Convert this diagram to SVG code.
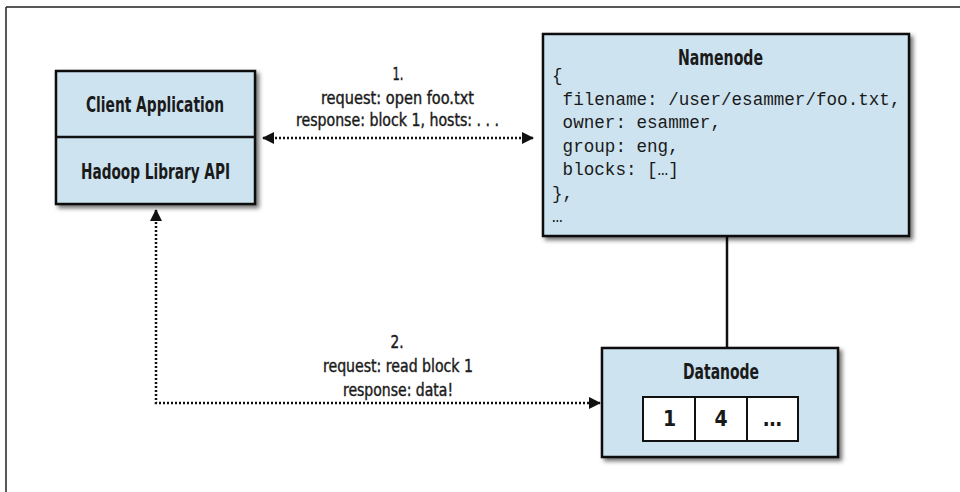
<svg xmlns="http://www.w3.org/2000/svg" width="960" height="492" viewBox="0 0 960 492">
  <style>
    .box { fill: #cde3f0; stroke: #111; stroke-width: 2.5; }
    .title { font-family: "Liberation Sans Narrow", "DejaVu Sans Condensed", "Liberation Sans", sans-serif; font-weight: bold; font-size: 21px; fill: #1a1a1a; text-anchor: middle; }
    .lbl { font-family: "Liberation Sans Narrow", "DejaVu Sans Condensed", "Liberation Sans", sans-serif; font-size: 17.5px; fill: #1a1a1a; stroke: #1a1a1a; stroke-width: 0.4; text-anchor: middle; }
    .mono { font-family: "Liberation Mono", "DejaVu Sans Mono", monospace; font-size: 17.6px; fill: #1a1a1a; }
    .dotted { fill: none; stroke: #111; stroke-width: 2.5; stroke-dasharray: 2 2; }
    .solid { fill: none; stroke: #111; stroke-width: 2.5; }
    .cell { fill: #fff; stroke: #111; stroke-width: 2; }
  </style>
  <defs>
    <filter id="shadow" x="-10%" y="-10%" width="130%" height="130%">
      <feDropShadow dx="3" dy="3" stdDeviation="2" flood-color="#000" flood-opacity="0.55"/>
    </filter>
    <marker id="arrow" viewBox="0 0 12 12" refX="11" refY="6" markerWidth="12" markerHeight="12" markerUnits="userSpaceOnUse" orient="auto-start-reverse">
      <path d="M0,0 L12,6 L0,12 z" fill="#111"/>
    </marker>
  </defs>

  <rect width="960" height="492" fill="#fff"/>
  <g id="frame">
    <path d="M6,7 H960 M6,7 V492" fill="none" stroke="#222" stroke-width="1.5"/>
  </g>

  <g id="connectors">
    <line class="dotted" x1="263" y1="138" x2="533" y2="138" marker-start="url(#arrow)" marker-end="url(#arrow)"/>
    <path class="dotted" d="M156,210 V403 H600" marker-start="url(#arrow)" marker-end="url(#arrow)"/>
    <line class="solid" x1="727" y1="236" x2="727" y2="348"/>
    <g id="label1">
      <text class="lbl" x="398" y="80" textLength="11" lengthAdjust="spacingAndGlyphs">1.</text>
      <text class="lbl" x="397.5" y="104" textLength="153" lengthAdjust="spacingAndGlyphs">request: open foo.txt</text>
      <text class="lbl" x="397.5" y="126" textLength="203" lengthAdjust="spacingAndGlyphs">response: block 1, hosts: . . .</text>
    </g>
    <g id="label2">
      <text class="lbl" x="397" y="348" textLength="13" lengthAdjust="spacingAndGlyphs">2.</text>
      <text class="lbl" x="398" y="372" textLength="150" lengthAdjust="spacingAndGlyphs">request: read block 1</text>
      <text class="lbl" x="398" y="396" textLength="110" lengthAdjust="spacingAndGlyphs">response: data!</text>
    </g>
  </g>

  <g id="client">
    <rect class="box" x="56" y="71" width="199" height="133" filter="url(#shadow)"/>
    <line class="solid" x1="56" y1="137" x2="255" y2="137"/>
    <text class="title" x="155" y="112" textLength="138" lengthAdjust="spacingAndGlyphs">Client Application</text>
    <text class="title" x="155.5" y="178.5" textLength="149" lengthAdjust="spacingAndGlyphs">Hadoop Library API</text>
  </g>

  <g id="namenode">
    <rect class="box" x="543" y="34" width="366" height="202" filter="url(#shadow)"/>
    <text class="title" x="720.5" y="64.5" textLength="85" lengthAdjust="spacingAndGlyphs">Namenode</text>
    <text class="mono" x="552" y="81">{</text>
    <text class="mono" x="562.6" y="104.5">filename: /user/esammer/foo.txt,</text>
    <text class="mono" x="562.6" y="128">owner: esammer,</text>
    <text class="mono" x="562.6" y="151.5">group: eng,</text>
    <text class="mono" x="562.6" y="175">blocks: […]</text>
    <text class="mono" x="552" y="198.5">},</text>
    <text class="mono" x="552" y="222">…</text>
  </g>

  <g id="datanode">
    <rect class="box" x="602" y="348" width="236" height="109" filter="url(#shadow)"/>
    <text class="title" x="721" y="378.5" textLength="76" lengthAdjust="spacingAndGlyphs">Datanode</text>
    <rect class="cell" x="643" y="397" width="155" height="44"/>
    <line class="cell" x1="695" y1="397" x2="695" y2="441"/>
    <line class="cell" x1="747" y1="397" x2="747" y2="441"/>
    <text class="title" x="669.5" y="426">1</text>
    <text class="title" x="721" y="426">4</text>
    <text class="title" x="772.5" y="426">…</text>
  </g>
</svg>
